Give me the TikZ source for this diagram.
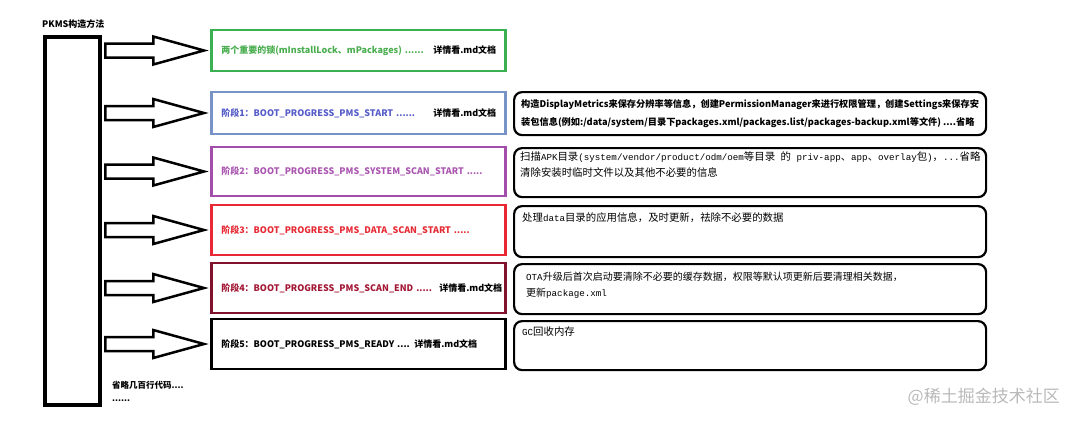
\documentclass[tikz,border=0pt]{standalone}
\usepackage{fontspec}
\setmainfont{Noto Sans CJK SC}
\newfontfamily\codefont{Liberation Mono}
\usetikzlibrary{positioning,calc}

\definecolor{greenline}{RGB}{58,176,82}
\definecolor{greentext}{RGB}{74,174,80}
\definecolor{blueline}{RGB}{120,148,198}
\definecolor{bluetext}{RGB}{86,92,200}
\definecolor{purpleline}{RGB}{163,78,170}
\definecolor{purpletext}{RGB}{170,86,176}
\definecolor{redline}{RGB}{232,40,52}
\definecolor{redtext}{RGB}{230,42,52}
\definecolor{wineline}{RGB}{128,18,45}
\definecolor{winetext}{RGB}{162,22,52}

\newcommand{\withdetail}[2]{\makebox[#1][l]{#2}\textcolor{black}{详情看.md文档}}
\newcommand{\code}[1]{{\codefont\fontsize{9.2}{16}\selectfont #1}}

\tikzset{
  stagebox/.style={draw, line width=2.5pt, minimum width=294pt, anchor=west,
    inner xsep=10pt, text width=274pt, align=left,
    font=\bfseries\fontsize{9}{11}\selectfont},
  notebox/.style={draw, rounded corners=8pt, line width=2.2pt,
    minimum width=472pt, anchor=north west},
  notetext/.style={inner sep=0pt, align=left, font=\fontsize{10.4}{16}\selectfont},
  blockarrow/.style={draw, line width=2.5pt, fill=white},
}

\begin{document}
\begin{tikzpicture}[x=1pt,y=-1pt]
  \useasboundingbox (0,0) rectangle (1071,421);

  % Left column
  \node[draw, line width=4.5pt, minimum width=55pt, minimum height=368pt, inner sep=0pt] (pkms) at (72.5,221) {};
  \node[anchor=west, inner sep=0pt, font=\bfseries\fontsize{9}{11}\selectfont] (title) at (42,24) {PKMS构造方法};

  % Stages
  \foreach \name/\y/\h/\bc/\tc/\txt in {
    s0/50.5/41/greenline/greentext/{\withdetail{212pt}{两个重要的锁(mInstallLock、mPackages)~......}},
    s1/113/42/blueline/bluetext/{\withdetail{212pt}{阶段1：BOOT\_PROGRESS\_PMS\_START~......}},
    s2/171.5/49/purpleline/purpletext/{阶段2：BOOT\_PROGRESS\_PMS\_SYSTEM\_SCAN\_START~.....},
    s3/230/50/redline/redtext/{阶段3：BOOT\_PROGRESS\_PMS\_DATA\_SCAN\_START~.....},
    s4/288/50/wineline/winetext/{\withdetail{218pt}{阶段4：BOOT\_PROGRESS\_PMS\_SCAN\_END~.....}},
    s5/344/50/black/black/{\withdetail{193pt}{阶段5：BOOT\_PROGRESS\_PMS\_READY~....}}} {
    \node[stagebox, draw=\bc, text=\tc, minimum height=\h pt] (\name) at (210,\y) {\txt};
  }

  % Block arrows from the left column
  \foreach \s in {s0,s1,s2,s3,s4,s5} {
    \coordinate (a\s) at ($(pkms.east |- \s.west)+(3,0)$);
    \draw[blockarrow] ($(a\s)+(0,-7)$) -- ++(48,0) -- ++(0,-7) -- ($(\s.west)+(-6,0)$)
      -- ($(a\s)+(48,14)$) -- ++(0,-7) -- ++(-48,0) -- cycle;
  }

  % Notes on the right
  \node[notebox, minimum height=43pt] (n1) at (513,91) {};
  \node[notebox, minimum height=49pt] (n2) at (513,147) {};
  \node[notebox, minimum height=51pt] (n3) at (513,205) {};
  \node[notebox, minimum height=50pt] (n4) at (513,263) {};
  \node[notebox, minimum height=49pt] (n5) at (513,320) {};

  \node[notetext, font=\bfseries\fontsize{9.2}{18}\selectfont, below right=8pt and 8pt of n1.north west] (t1)
    {构造DisplayMetrics来保存分辨率等信息，创建PermissionManager来进行权限管理，创建Settings来保存安\\
     装包信息(例如:/data/system/目录下packages.xml/packages.list/packages-backup.xml等文件)~....省略};
  \node[notetext, below right=5pt and 7pt of n2.north west] (t2)
    {扫描\code{APK}目录\code{(system/vendor/product/odm/oem}等目录\code{ }的\code{ priv-app}、\code{app}、\code{overlay}包\code{)}，\code{...}省略\\
     清除安装时临时文件以及其他不必要的信息};
  \node[notetext, below right=7pt and 9pt of n3.north west] (t3)
    {处理\code{data}目录的应用信息，及时更新，祛除不必要的数据};
  \node[notetext, font=\fontsize{10}{16}\selectfont, below right=9pt and 13pt of n4.north west] (t4)
    {\code{OTA}升级后首次启动要清除不必要的缓存数据，权限等默认项更新后要清理相关数据，\\
     更新\code{package.xml}};
  \node[notetext, below right=7pt and 9pt of n5.north west] (t5) {\code{GC}回收内存};

  % Bottom text and mark
  \node[anchor=west, inner sep=0pt, font=\bfseries\fontsize{8.5}{10}\selectfont] (omit) at (112,385) {省略几百行代码....};
  \node[anchor=west, inner sep=0pt, font=\bfseries\fontsize{8.5}{10}\selectfont] (dots) at (112,401) {......};
  \node[anchor=east, inner sep=0pt, text=gray!55, font=\fontsize{17}{17}\selectfont] (mark) at (1060,397) {@稀土掘金技术社区};
\end{tikzpicture}
\end{document}
